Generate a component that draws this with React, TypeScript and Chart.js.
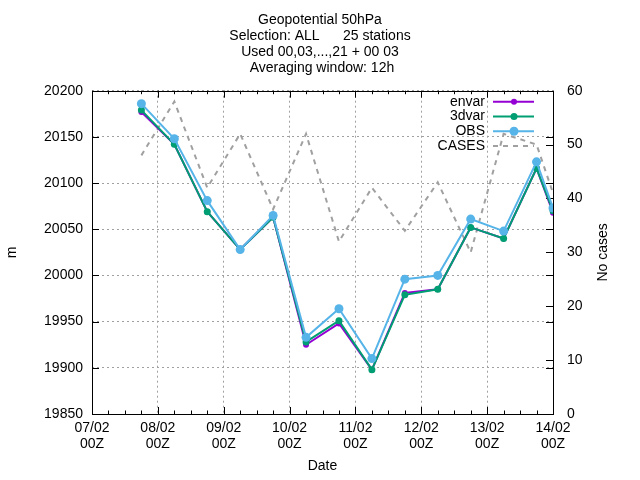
import React, { useEffect, useRef } from "react";
import { Chart, registerables, Plugin } from "chart.js";

Chart.register(...registerables);

// hours after 07/02 00Z
const hours = [18, 30, 42, 54, 66, 78, 90, 102, 114, 126, 138, 150, 162, 168];
const envar = [20177, 20142, 20069, 20028, 20063, 19925, 19948, 19898, 19981, 19985, 20052, 20040, 20116, 20068];
const threeDvar = [20179, 20142, 20069, 20028, 20063, 19928, 19951, 19898, 19979, 19985, 20052, 20040, 20116, 20070];
const obs = [20186, 20148, 20081, 20028, 20065, 19933, 19964, 19910, 19996, 20000, 20061, 20048, 20123, 20073];
const cases = [48, 58, 42, 52, 38, 52, 32, 42, 34, 43, 30, 52, 50, 41];

const titleLines = [
    "Geopotential 50hPa",
    "Selection: ALL      25 stations",
    "Used 00,03,...,21 + 00 03",
    " Averaging window: 12h"
];

const FONT = "'Liberation Sans', Arial, sans-serif";

const toPoints = (vals: number[]) => hours.map((h, i) => ({ x: h, y: vals[i] }));

const dateLabel = (h: number) => {
    const day = 7 + Math.floor(h / 24);
    return [String(day).padStart(2, "0") + "/02", "00Z"];
};

// gnuplot style frame: border box, inward ticks, minor x ticks every 6h, right axis title
const framePlugin: Plugin<"line"> = {
    id: "frame",
    beforeDatasetsDraw(chart) {
        const { ctx, chartArea: a, scales } = chart;
        const x = scales.x;
        const y = scales.y;
        const y2 = scales.y2;
        ctx.save();
        ctx.strokeStyle = "#000";
        ctx.lineWidth = 1;
        ctx.setLineDash([]);
        ctx.beginPath();
        for (let h = x.min; h <= x.max; h += 6) {
            const px = Math.round(x.getPixelForValue(h)) + 0.5;
            const len = h % 24 === 0 ? 7 : 3.5;
            ctx.moveTo(px, a.bottom);
            ctx.lineTo(px, a.bottom - len);
            ctx.moveTo(px, a.top);
            ctx.lineTo(px, a.top + len);
        }
        y.ticks.forEach((t) => {
            const py = Math.round(y.getPixelForValue(t.value)) + 0.5;
            ctx.moveTo(a.left, py);
            ctx.lineTo(a.left + 7, py);
            ctx.moveTo(a.right, py);
            ctx.lineTo(a.right - 7, py);
        });
        y2.ticks.forEach((t) => {
            const py = Math.round(y2.getPixelForValue(t.value)) + 0.5;
            ctx.moveTo(a.right, py);
            ctx.lineTo(a.right - 7, py);
        });
        ctx.stroke();
        ctx.strokeRect(Math.round(a.left) + 0.5, Math.round(a.top) + 0.5, Math.round(a.width), Math.round(a.height));

        ctx.fillStyle = "#000";
        ctx.font = `14px ${FONT}`;
        ctx.textAlign = "center";
        ctx.textBaseline = "middle";
        ctx.translate(a.right + 50, (a.top + a.bottom) / 2);
        ctx.rotate(-Math.PI / 2);
        ctx.fillText("No cases", 0, 0);
        ctx.restore();
    }
};

// legend inside the top right corner: text right aligned, sample on the right
const keyPlugin: Plugin<"line"> = {
    id: "key",
    afterDatasetsDraw(chart) {
        const { ctx, chartArea: a } = chart;
        ctx.save();
        ctx.font = `14px ${FONT}`;
        ctx.textAlign = "right";
        ctx.textBaseline = "middle";
        chart.data.datasets.forEach((ds: any, i: number) => {
            const ry = a.top + 11 + i * 14.8;
            ctx.fillStyle = "#000";
            ctx.fillText(ds.label, a.right - 68, ry);
            ctx.strokeStyle = ds.borderColor;
            ctx.lineWidth = ds.borderWidth;
            ctx.setLineDash(ds.borderDash || []);
            ctx.beginPath();
            ctx.moveTo(a.right - 60, ry);
            ctx.lineTo(a.right - 19, ry);
            ctx.stroke();
            if (ds.pointRadius > 0) {
                ctx.fillStyle = ds.borderColor;
                ctx.beginPath();
                ctx.arc(a.right - 39, ry, ds.pointRadius, 0, Math.PI * 2);
                ctx.fill();
            }
        });
        ctx.restore();
    }
};

const App: React.FC = () => {
    const canvasRef = useRef<HTMLCanvasElement | null>(null);
    const chartRef = useRef<Chart<"line"> | null>(null);

    useEffect(() => {
        if (!canvasRef.current) return;
        if (chartRef.current) chartRef.current.destroy();

        Chart.defaults.font.family = FONT;
        Chart.defaults.font.size = 14;
        Chart.defaults.color = "#000";

        const gridColor = "#a0a0a0";

        chartRef.current = new Chart(canvasRef.current, {
            type: "line",
            data: {
                datasets: [
                    {
                        label: "envar",
                        data: toPoints(envar),
                        yAxisID: "y",
                        borderColor: "#9400d3",
                        backgroundColor: "#9400d3",
                        borderWidth: 2,
                        pointRadius: 3,
                        pointBorderWidth: 0,
                        order: 2
                    },
                    {
                        label: "3dvar",
                        data: toPoints(threeDvar),
                        yAxisID: "y",
                        borderColor: "#009e73",
                        backgroundColor: "#009e73",
                        borderWidth: 2,
                        pointRadius: 3.5,
                        pointBorderWidth: 0,
                        order: 1
                    },
                    {
                        label: "OBS",
                        data: toPoints(obs),
                        yAxisID: "y",
                        borderColor: "#56b4e9",
                        backgroundColor: "#56b4e9",
                        borderWidth: 2,
                        pointRadius: 4.5,
                        pointBorderWidth: 0,
                        order: 0
                    },
                    {
                        label: "CASES",
                        data: toPoints(cases),
                        yAxisID: "y2",
                        borderColor: "#a0a0a0",
                        backgroundColor: "#a0a0a0",
                        borderWidth: 2,
                        borderDash: [5, 5],
                        pointRadius: 0,
                        order: 3
                    }
                ]
            },
            options: {
                responsive: false,
                animation: false,
                layout: { padding: 0 },
                plugins: {
                    legend: { display: false },
                    tooltip: { enabled: false },
                    title: {
                        display: true,
                        text: titleLines,
                        color: "#000",
                        font: { size: 14, weight: "normal", lineHeight: "16px" },
                        padding: { top: 12, bottom: 14.7 }
                    }
                },
                scales: {
                    x: {
                        type: "linear",
                        min: 0,
                        max: 168,
                        ticks: {
                            stepSize: 24,
                            padding: 6,
                            maxRotation: 0,
                            font: { lineHeight: "16px" },
                            callback: (v) => dateLabel(Number(v))
                        },
                        grid: { color: gridColor, drawTicks: false },
                        border: { display: false, dash: [2, 3] },
                        title: {
                            display: true,
                            text: "Date",
                            font: { lineHeight: "16px" },
                            padding: { top: 0, bottom: 6 }
                        },
                        afterFit: (s) => {
                            s.height = 66;
                        }
                    },
                    y: {
                        position: "left",
                        min: 19850,
                        max: 20200,
                        ticks: { stepSize: 50, padding: 9, callback: (v) => String(v) },
                        grid: { color: gridColor, drawTicks: false },
                        border: { display: false, dash: [2, 3] },
                        title: {
                            display: true,
                            text: "m",
                            font: { lineHeight: "16px" },
                            padding: { top: 4, bottom: 0 }
                        },
                        afterFit: (s) => {
                            s.width = 92;
                        }
                    },
                    y2: {
                        position: "right",
                        min: 0,
                        max: 60,
                        ticks: { stepSize: 10, padding: 14, callback: (v) => String(v) },
                        grid: { drawOnChartArea: false, drawTicks: false },
                        border: { display: false },
                        afterFit: (s) => {
                            s.width = 87;
                        }
                    }
                }
            },
            plugins: [framePlugin, keyPlugin]
        });

        return () => {
            chartRef.current?.destroy();
            chartRef.current = null;
        };
    }, []);

    return (
        <div style={{ position: "fixed", left: 0, top: 0, width: 640, height: 480, background: "#fff" }}>
            <canvas ref={canvasRef} width={640} height={480} style={{ display: "block" }}></canvas>
        </div>
    );
};

export default App;
